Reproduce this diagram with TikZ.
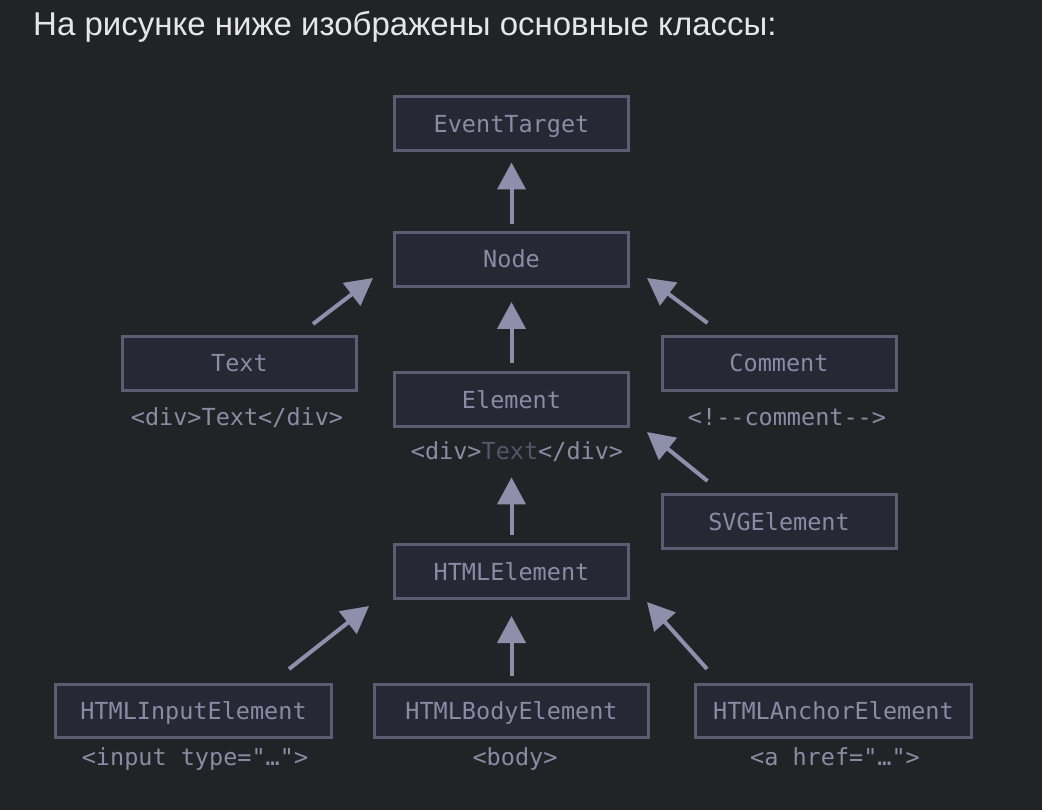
\documentclass[tikz,border=0pt]{standalone}
\usepackage{fontspec}
\setmainfont{Liberation Sans}
\newfontfamily\monofont{DejaVu Sans Mono}
\usetikzlibrary{arrows.meta,calc}
\definecolor{bg}{HTML}{222327}
\definecolor{boxfill}{HTML}{262834}
\definecolor{boxline}{HTML}{5C5D73}
\definecolor{boxtext}{HTML}{8A8BA5}
\definecolor{dimtext}{HTML}{55566A}
\definecolor{arrcol}{HTML}{8E8FAA}
\definecolor{titlecol}{HTML}{E6E6E8}
\tikzset{
  cls/.style={draw=boxline, fill=boxfill, line width=3pt, text=boxtext,
    font=\monofont\fontsize{23.5}{28}\selectfont, minimum width=234pt,
    minimum height=54pt, inner sep=0pt, text height=17pt, text depth=0pt},
  wide/.style={minimum width=276pt, minimum height=53pt},
  lbl/.style={text=boxtext, font=\monofont\fontsize{23.5}{28}\selectfont,
    inner sep=0pt, anchor=base},
  arr/.style={draw=arrcol, line width=4pt,
    -{Triangle[width=28pt,length=27pt,fill=arrcol]}}
}
\begin{document}
\begin{tikzpicture}[x=1pt,y=-1pt]
\fill[bg] (0,0) rectangle (1042,810);
\useasboundingbox (0,0) rectangle (1042,810);
\node[anchor=base west, inner sep=0pt, text=titlecol,
  font=\fontsize{33}{38}\selectfont] (title) at (33,36)
  {На рисунке ниже изображены основные классы:};

\node[cls] (et) at (511.5,124) {EventTarget};
\node[cls] (nd) at (511.5,259.5) {Node};
\node[cls] (tx) at (239.5,363.5) {Text};
\node[cls] (cm) at (779,363.5) {Comment};
\node[cls] (el) at (511.5,399.5) {Element};
\node[cls] (svg) at (779,521.5) {SVGElement};
\node[cls] (he) at (511.5,571.5) {HTMLElement};
\node[cls,wide] (hi) at (193.5,711) {HTMLInputElement};
\node[cls,wide,minimum width=274pt] (hb) at (511.5,711) {HTMLBodyElement};
\node[cls,wide] (ha) at (833.5,711) {HTMLAnchorElement};

\node[lbl] (txl) at (237,425) {<div>Text</div>};
\node[lbl] (cml) at (787,425) {<!-{}-comment-{}->};
\node[lbl] (ell) at (517,459) {<div>\textcolor{dimtext}{Text}</div>};
\node[lbl] (hil) at (195,765) {<input type="…">};
\node[lbl] (hbl) at (515,765) {<body>};
\node[lbl] (hal) at (835,765) {<a href="…">};

\draw[arr] ($(nd.north)+(0,-7)$) -- ($(et.south)+(0,10)$);
\draw[arr] ($(el.north)+(0,-8)$) -- ($(nd.south)+(0,14)$);
\draw[arr] ($(he.north)+(0,-8)$) -- ($(he.north |- ell.south)+(0,16)$);
\draw[arr] ($(hb.north)+(0,-7)$) -- ($(he.south)+(0,16)$);
\draw[arr] ($(tx.north east)+(-45,-11)$) -- ($(nd.south west)+(-20,-10)$);
\draw[arr] ($(cm.north west)+(47,-12)$) -- ($(nd.south east)+(17,-10)$);
\draw[arr] ($(svg.north west)+(47,-12)$) -- ($(el.south east)+(17,4)$);
\draw[arr] ($(hi.north east)+(-44,-14)$) -- ($(he.south west)+(-24,6)$);
\draw[arr] ($(ha.north west)+(13,-14)$) -- ($(he.south east)+(17,2)$);
\end{tikzpicture}
\end{document}
